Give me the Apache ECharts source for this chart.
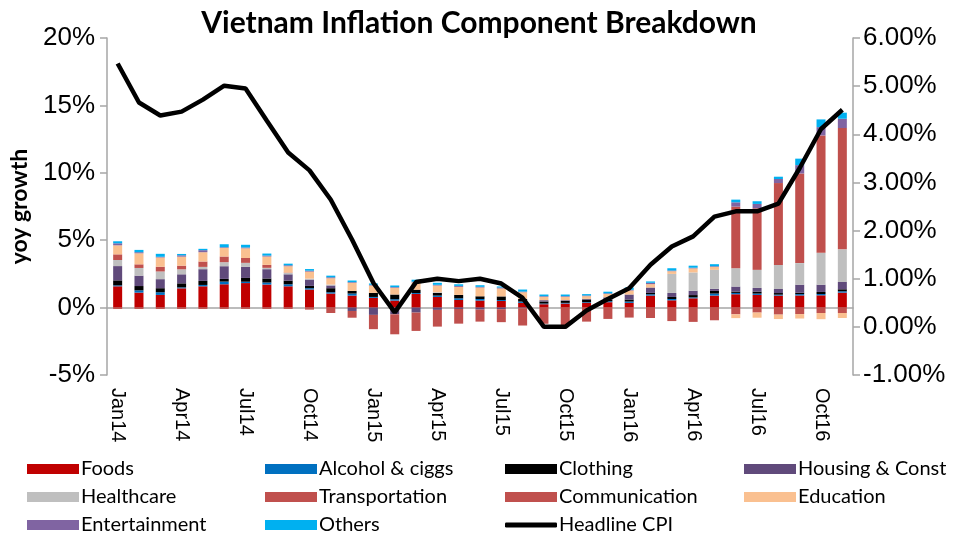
<!DOCTYPE html>
<html>
<head>
<meta charset="utf-8">
<script src="https://cdn.jsdelivr.net/npm/echarts@6/dist/echarts.min.js"></script>
<style>
  html, body { margin: 0; padding: 0; background: #fff; }
  #myChart { width: 958px; height: 541px; }
</style>
</head>
<body>
<div id="myChart"></div>
<script>
// months Jan14 .. Nov16
const months = ['Jan14', 'Feb14', 'Mar14', 'Apr14', 'May14', 'Jun14', 'Jul14', 'Aug14', 'Sep14', 'Oct14', 'Nov14', 'Dec14',
  'Jan15', 'Feb15', 'Mar15', 'Apr15', 'May15', 'Jun15', 'Jul15', 'Aug15', 'Sep15', 'Oct15', 'Nov15', 'Dec15',
  'Jan16', 'Feb16', 'Mar16', 'Apr16', 'May16', 'Jun16', 'Jul16', 'Aug16', 'Sep16', 'Oct16', 'Nov16']

// component contributions, yoy growth (%)
const foods = [1.58, 1.11, 0.94, 1.43, 1.58, 1.73, 1.82, 1.71, 1.58, 1.34, 1.04, 0.89,
  0.72, 0.52, 1.01, 0.79, 0.57, 0.52, 0.49, 0.35, 0.25, 0.3, 0.35, 0.4,
  0.35, 0.89, 0.54, 0.69, 0.89, 0.99, 0.94, 0.89, 0.9, 0.91, 1.11]
const alcohol = [0.07, 0.17, 0.2, 0.07, 0.1, 0.2, 0.1, 0.15, 0.15, 0.1, 0.1, 0.15,
  0.07, 0.1, 0.07, 0.1, 0.12, 0.12, 0.07, 0.1, 0.05, 0.05, 0.05, 0.07,
  0.1, 0.1, 0.1, 0.07, 0.15, 0.1, 0.1, 0.07, 0.1, 0.1, 0.1]
const clothing = [0.37, 0.32, 0.3, 0.3, 0.3, 0.2, 0.28, 0.3, 0.27, 0.17, 0.3, 0.2,
  0.3, 0.35, 0.25, 0.2, 0.25, 0.2, 0.27, 0.2, 0.15, 0.15, 0.2, 0.12,
  0.15, 0.1, 0.15, 0.17, 0.2, 0.1, 0.15, 0.12, 0.1, 0.15, 0.15]
const housing = [1.06, 0.77, 0.67, 0.67, 0.87, 0.94, 0.82, 0.69, 0.47, 0.47, 0.2, -0.25,
  -0.54, -0.5, -0.37, -0.17, -0.1, -0.15, -0.12, -0.05, 0.1, 0.05, 0.05, 0.17,
  0.37, 0.4, 0.3, 0.32, 0.15, 0.37, 0.27, 0.3, 0.6, 0.54, 0.54]
const healthcare = [0.45, 0.57, 0.57, 0.37, 0.17, 0.3, 0.3, 0.1, 0.1, 0.07, 0.07, 0,
  0, 0, 0, 0.05, 0, 0, 0, 0, 0, 0, 0, 0,
  0, 0, 1.41, 1.36, 1.41, 1.36, 1.34, 1.78, 1.6, 2.37, 2.42]
const transportation = [0.42, 0.27, 0.35, 0.27, 0.4, 0.42, 0.36, 0.22, 0.03, -0.1, -0.4, -0.5,
  -1.06, -1.48, -1.36, -1.24, -1.09, -0.89, -0.96, -1.28, -1.2, -1.35, -1.04, -0.84,
  -0.74, -0.77, -1.0, -1.06, -0.94, 4.57, 4.57, 6.08, 6.65, 8.7, 9.0]
const communication = [-0.1, -0.1, -0.1, -0.1, -0.1, -0.1, -0.1, -0.1, -0.1, -0.05, 0, 0,
  0, 0, 0, 0, 0, 0, 0, 0, 0, 0, 0, 0,
  0, 0, 0, 0, 0, -0.5, -0.37, -0.52, -0.48, -0.4, -0.4]
const education = [0.67, 0.82, 0.69, 0.67, 0.69, 0.64, 0.72, 0.62, 0.47, 0.52, 0.47, 0.6,
  0.55, 0.5, 0.54, 0.5, 0.6, 0.65, 0.59, 0.49, 0.25, 0.25, 0.2, 0.25,
  0.3, 0.25, 0.2, 0.3, 0.22, -0.28, -0.38, -0.33, -0.33, -0.46, -0.37]
const entertainment = [0.15, 0.08, 0.05, 0.1, 0.15, 0.05, 0.06, 0.07, 0.07, 0.07, 0.07, 0.05,
  0.05, 0.05, 0.05, 0.05, 0.07, 0.05, 0.07, 0.05, 0.05, 0.05, 0.05, 0.05,
  0.05, 0.1, 0.05, 0.05, 0.05, 0.32, 0.32, 0.3, 0.62, 0.62, 0.69]
const others = [0.15, 0.17, 0.22, 0.1, 0.1, 0.22, 0.2, 0.15, 0.12, 0.12, 0.12, 0.12,
  0.1, 0.12, 0.15, 0.15, 0.12, 0.12, 0.08, 0.15, 0.12, 0.12, 0.1, 0.12,
  0.17, 0.1, 0.17, 0.15, 0.15, 0.2, 0.2, 0.17, 0.48, 0.57, 0.45]

// headline CPI, right axis (%)
const headlineCPI = [5.47, 4.66, 4.39, 4.47, 4.72, 5.01, 4.95, 4.28, 3.62, 3.25, 2.64, 1.81,
  0.91, 0.3, 0.93, 1.0, 0.95, 1.0, 0.9, 0.6, 0.0, 0.0, 0.34, 0.58,
  0.8, 1.29, 1.67, 1.88, 2.29, 2.4, 2.4, 2.56, 3.3, 4.11, 4.51]

const components = [
  {name: 'Foods', data: foods, color: '#C00000'},
  {name: 'Alcohol & ciggs', data: alcohol, color: '#0070C0'},
  {name: 'Clothing', data: clothing, color: '#000000'},
  {name: 'Housing & Const', data: housing, color: '#604A7B'},
  {name: 'Healthcare', data: healthcare, color: '#BFBFBF'},
  {name: 'Transportation', data: transportation, color: '#C0504D'},
  {name: 'Communication', data: communication, color: '#C0504D'},
  {name: 'Education', data: education, color: '#FAC090'},
  {name: 'Entertainment', data: entertainment, color: '#8064A2'},
  {name: 'Others', data: others, color: '#00B0F0'}
]

const axisFont = 'Liberation Sans'
const textFont = 'Lato'
const axisGray = '#A6A6A6'

let series = components.map(c => ({
  name: c.name,
  type: 'bar',
  stack: 'total',
  barWidth: 9,
  xAxisIndex: 0,
  yAxisIndex: 0,
  itemStyle: {color: c.color},
  data: c.data
}))
series.push({
  name: 'Headline CPI',
  type: 'line',
  xAxisIndex: 0,
  yAxisIndex: 1,
  symbol: 'none',
  z: 5,
  lineStyle: {color: '#000', width: 4.5},
  itemStyle: {color: '#000'},
  data: headlineCPI
})

function legendCol (left, top, names, h) {
  return {
    left: left,
    top: top,
    padding: 0,
    orient: 'vertical',
    itemWidth: 52,
    itemHeight: h || 10,
    itemGap: 8,
    icon: h ? 'roundRect' : 'rect',
    textStyle: {fontFamily: textFont, fontSize: 20, lineHeight: 20, color: '#000', padding: [0, 0, 0, -3]},
    data: names
  }
}

let myChart = echarts.init(document.getElementById('myChart'))
myChart.setOption({
  animation: false,
  title: {
    text: 'Vietnam Inflation Component Breakdown',
    left: 'center',
    top: 3,
    textStyle: {fontFamily: textFont, fontSize: 30, fontWeight: 'bold', color: '#000'}
  },
  legend: [
    legendCol(27, 459, ['Foods', 'Healthcare', 'Entertainment']),
    legendCol(265, 459, ['Alcohol & ciggs', 'Transportation', 'Others']),
    legendCol(505, 459, ['Clothing', 'Communication']),
    legendCol(505, 515, ['Headline CPI'], 5),
    legendCol(744, 459, ['Housing & Const', 'Education'])
  ],
  grid: {left: 107, right: 105, top: 38, bottom: 166},
  xAxis: [
    {
      type: 'category',
      data: months,
      axisLine: {onZero: true, onZeroAxisIndex: 0, lineStyle: {color: axisGray, width: 1.5}},
      axisTick: {interval: 2, length: 9, lineStyle: {color: axisGray, width: 1.5}},
      axisLabel: {show: false}
    },
    {
      type: 'category',
      data: months,
      position: 'bottom',
      axisLine: {show: false},
      axisTick: {show: false},
      axisLabel: {
        interval: 2,
        rotate: -90,
        margin: 13,
        fontFamily: axisFont,
        fontSize: 20,
        color: '#000'
      }
    }
  ],
  yAxis: [
    {
      type: 'value',
      min: -5,
      max: 20,
      interval: 5,
      name: 'yoy growth',
      nameLocation: 'middle',
      nameRotate: 90,
      nameGap: 76,
      nameTextStyle: {fontFamily: textFont, fontSize: 23, fontWeight: 'bold', color: '#000'},
      splitLine: {show: false},
      axisLine: {show: true, lineStyle: {color: axisGray, width: 1.5}},
      axisTick: {show: true, length: 7, lineStyle: {color: axisGray, width: 1.5}},
      axisLabel: {formatter: '{value}%', fontFamily: axisFont, fontSize: 26, color: '#000', margin: 12}
    },
    {
      type: 'value',
      min: -1,
      max: 6,
      interval: 1,
      splitLine: {show: false},
      axisLine: {show: true, lineStyle: {color: axisGray, width: 1.5}},
      axisTick: {show: true, length: 7, lineStyle: {color: axisGray, width: 1.5}},
      axisLabel: {
        formatter: v => v.toFixed(2) + '%',
        fontFamily: axisFont,
        fontSize: 26,
        color: '#000',
        margin: 10
      }
    }
  ],
  series: series
})
</script>
</body>
</html>
